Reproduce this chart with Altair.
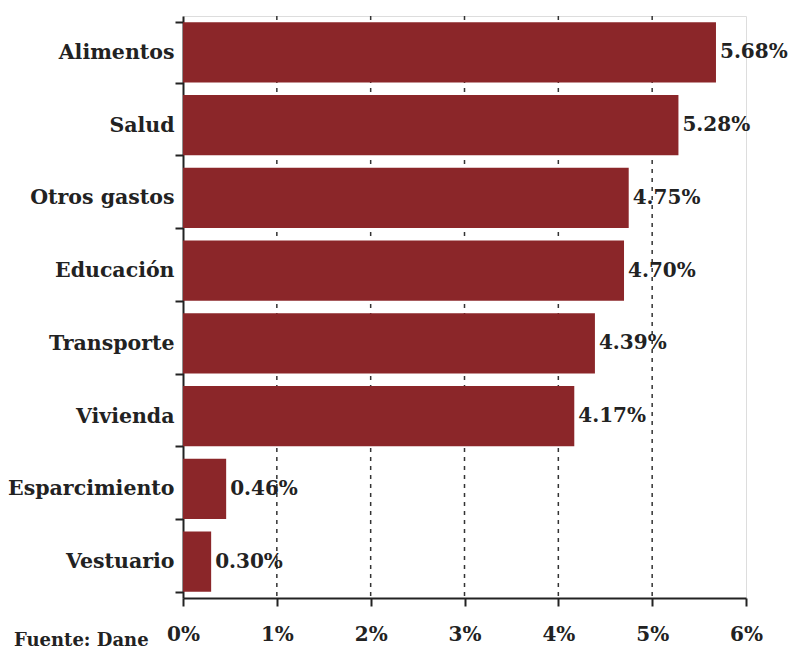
import altair as alt
import pandas as pd

categories = ["Alimentos", "Salud", "Otros gastos", "Educación", "Transporte",
              "Vivienda", "Esparcimiento", "Vestuario"]
values = [5.68, 5.28, 4.75, 4.70, 4.39, 4.17, 0.46, 0.30]
x_ticks = [0, 1, 2, 3, 4, 5, 6]
grid_ticks = [1, 2, 3, 4, 5]
source_note = "Fuente: Dane"

FONT = "DejaVu Serif"
BAR = "#8B2629"
INK = "#222222"

df = pd.DataFrame({"cat": categories, "val": values,
                   "lab": [f"{v:.2f}%" for v in values]})
grid_df = pd.DataFrame({"g": grid_ticks})

W, H = 563, 582

xscale = alt.Scale(domain=[0, 6], nice=False, zero=True)
ysort = categories

xaxis = alt.Axis(values=x_ticks, labelExpr="datum.value + '%'",
                 title=None, grid=False, domainColor=INK,
                 domainWidth=2, tickColor=INK, tickWidth=2,
                 tickSize=8, labelPadding=18, labelFont=FONT,
                 labelFontSize=20, labelFontWeight="bold",
                 labelColor=INK, labelFlush=False)

grid = alt.Chart(grid_df).mark_rule(
    color="#333333", strokeWidth=1.5, strokeDash=[4, 5]
).encode(x=alt.X("g:Q", scale=xscale, axis=xaxis))

bars = alt.Chart(df).mark_bar(color=BAR).encode(
    x=alt.X("val:Q", scale=xscale, axis=xaxis),
    y=alt.Y("cat:N", sort=ysort,
            scale=alt.Scale(paddingInner=0.17, paddingOuter=0.085),
            axis=alt.Axis(title=None, tickBand="extent", domainColor=INK,
                          domainWidth=2, tickColor=INK, tickWidth=2,
                          tickSize=8, labelPadding=1, labelFont=FONT,
                          labelFontSize=20.5, labelFontWeight="bold",
                          labelColor=INK)),
)

labels = alt.Chart(df).mark_text(
    align="left", baseline="middle", dx=4, font=FONT, fontSize=20,
    fontWeight="bold", color=INK
).encode(
    x=alt.X("val:Q", scale=xscale),
    y=alt.Y("cat:N", sort=ysort),
    text="lab:N",
)

note = alt.Chart(pd.DataFrame({"t": [source_note]})).mark_text(
    align="left", baseline="alphabetic", font=FONT, fontSize=18,
    fontWeight="bold", color=INK
).encode(x=alt.value(-169), y=alt.value(630), text="t:N")

chart = alt.layer(grid, bars, labels, note).properties(
    width=W, height=H,
    padding={"left": 175, "top": 8, "right": 42, "bottom": 56},
    autosize=alt.AutoSizeParams(type="none"),
).configure_view(
    stroke="#9a9a9a", strokeWidth=2.5
).configure(background="white")

chart.save("out.html", embed_options={"renderer": "svg", "actions": False})
